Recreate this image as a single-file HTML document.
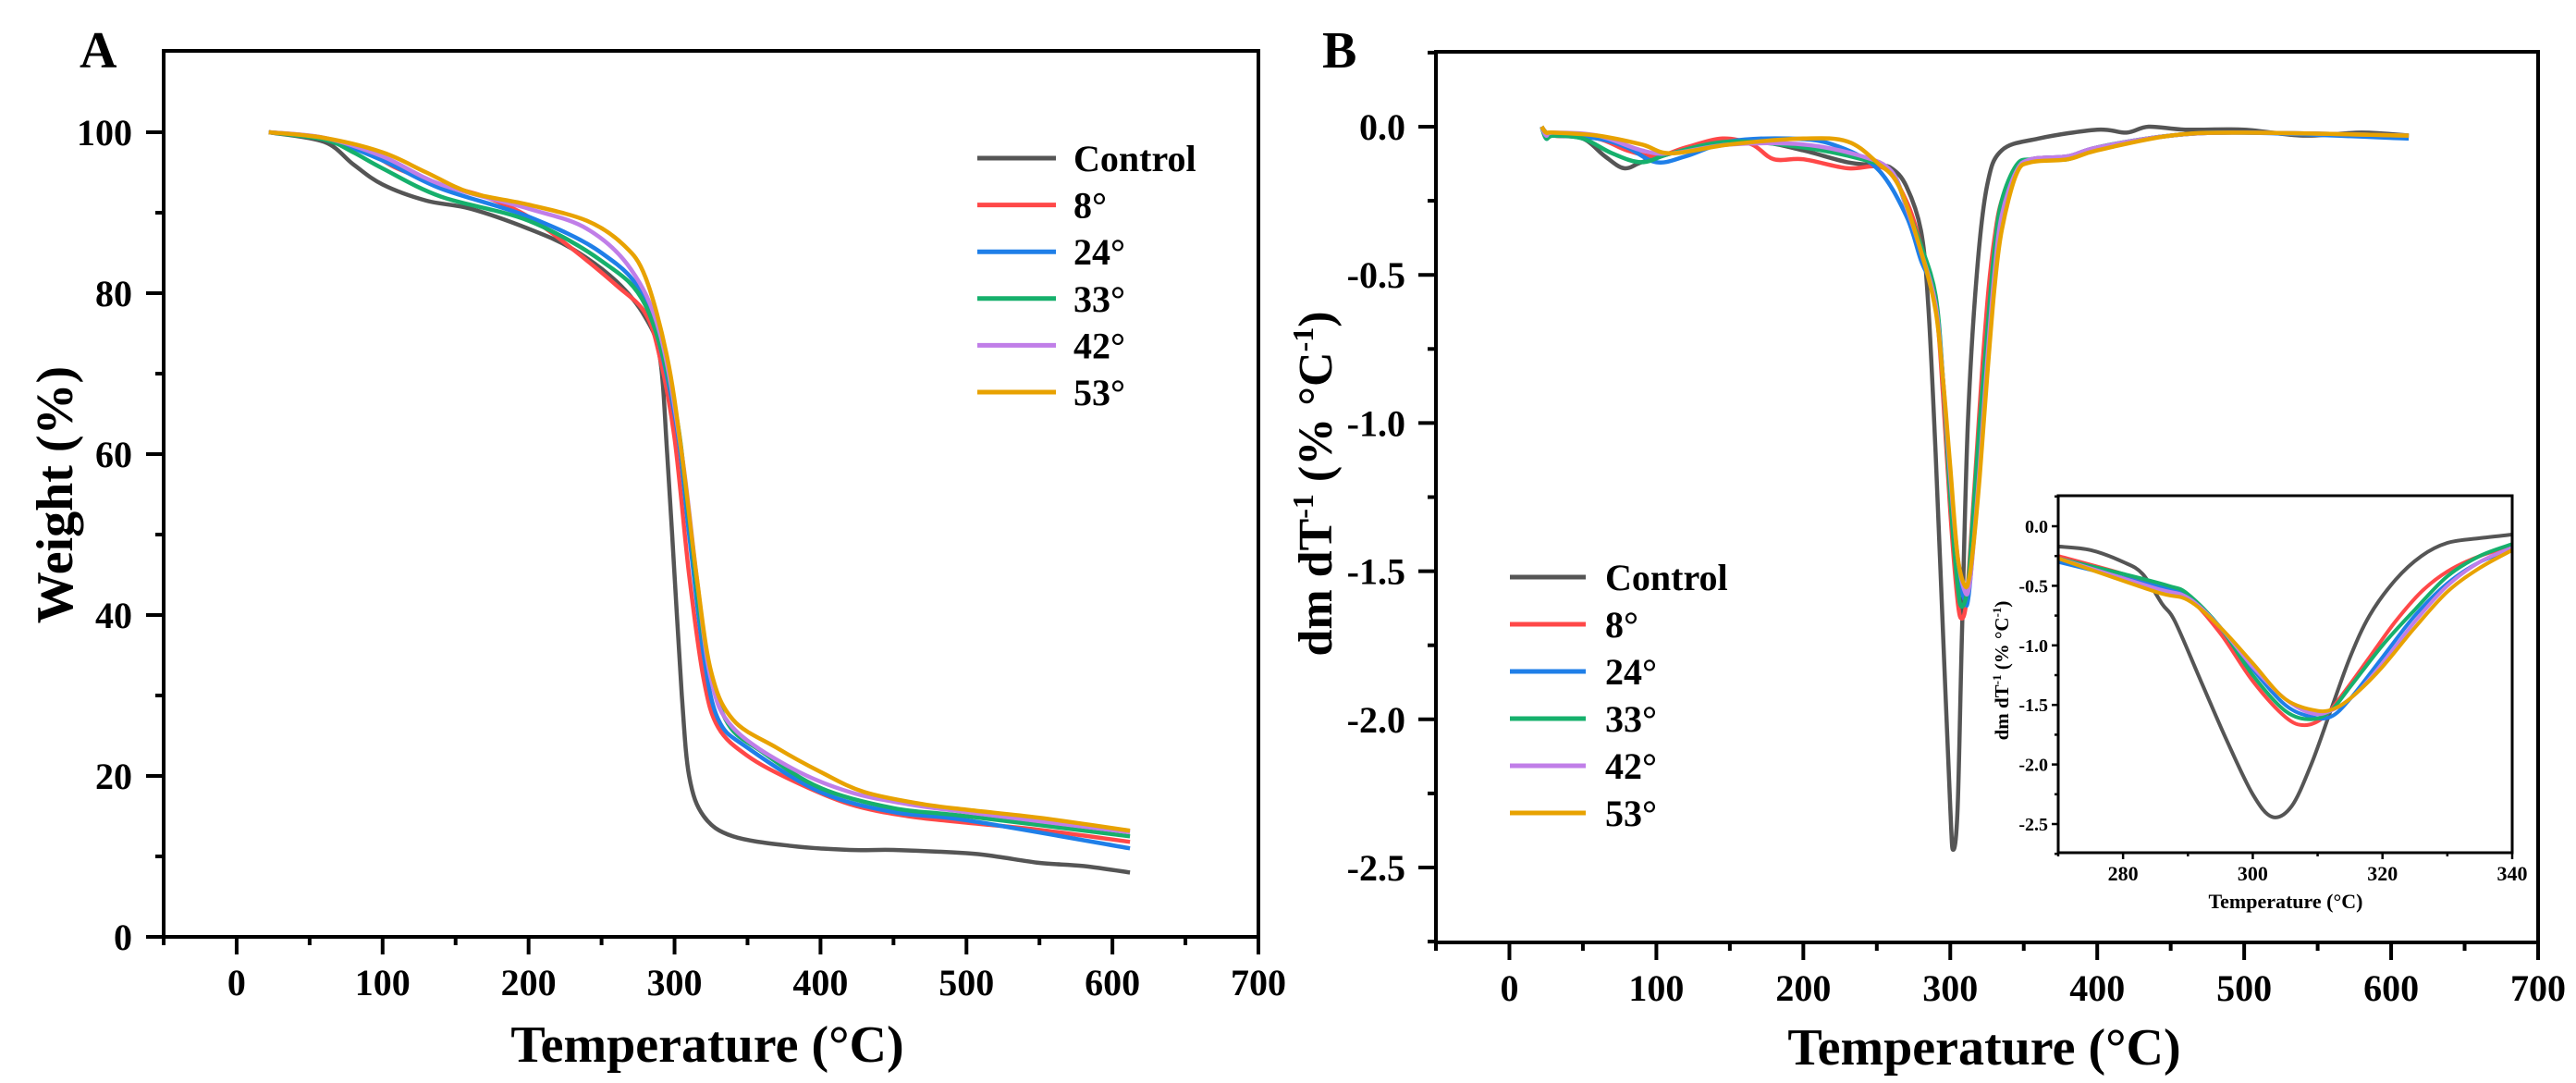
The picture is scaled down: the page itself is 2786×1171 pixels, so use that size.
<!DOCTYPE html>
<html><head><meta charset="utf-8"><style>
html,body{margin:0;padding:0;background:#fff;}
svg{display:block;font-family:"Liberation Serif",serif;font-weight:bold;}
</style></head><body>
<svg id="fig" width="2786" height="1171" viewBox="0 0 2786 1171" xmlns="http://www.w3.org/2000/svg">
<defs>
<clipPath id="clipA"><rect x="177" y="55" width="1184" height="958"/></clipPath>
<clipPath id="clipB"><rect x="1553" y="56" width="1192" height="963"/></clipPath>
<clipPath id="clipI"><rect x="2226" y="536" width="491" height="386"/></clipPath>
</defs>
<g id="gA"></g>
<g id="gB"></g>
<g id="gI"></g>
</svg>
<script>
// ---------- data ----------
const seriesNames = ["Control","8°","24°","33°","42°","53°"];
const seriesColors = ["#555555","#ff4848","#1f7fe8","#16b06c","#c07ee8","#e8a200"];

// Panel A: weight (%) vs temperature
const tgaT = [
 [22,60,80,100,130,160,200,230,260,280,290,295,300,305,310,320,340,380,420,450,500,520,550,580,612],
 [22,60,90,110,140,170,200,230,260,280,290,300,310,320,330,350,380,420,460,500,550,612],
 [22,60,100,140,200,250,280,300,310,320,330,350,400,450,500,612],
 [22,60,80,100,140,200,250,280,300,310,320,335,360,400,450,500,612],
 [22,60,100,140,200,240,270,290,305,315,325,340,380,420,460,500,612],
 [22,60,100,130,160,200,240,265,280,295,305,315,325,340,370,400,430,470,500,550,612]
];
const tgaW = [
 [100,98.8,96,93.5,91.5,90.5,88,85.5,81.5,77,72,60,45,30,20,15,12.5,11.3,10.8,10.8,10.4,10,9.2,8.8,8],
 [100,99.3,97.5,95.5,93.5,92,89.5,85.5,81,77.5,72,62,45,32,26,22.5,19.5,16.5,15,14.2,13.3,11.8],
 [100,99.2,96.5,93,89.5,85,79,65,50,35,27,23.5,18,15.5,14.5,11],
 [100,99.1,97.5,95.5,92,89,84,78.5,66,52,37,27,23,18.5,16,15,12.5],
 [100,99.3,97,93.5,90.5,88,83,75,60,45,32,26,21,18,16.5,15.5,13],
 [100,99.3,97.5,95,92.5,91,89,86,82,72,60,45,33,27,23.5,20.5,18,16.5,15.8,14.8,13.2]
];

// Panel B: DTG
const dtgT = [
 [22,25,30,50,65,78,90,110,140,170,200,230,250,260,270,280,285,290,295,300,302,305,308,312,318,325,335,360,400,420,435,460,500,540,580,612],
 [22,25,30,60,80,100,120,145,165,180,200,230,255,270,280,290,295,300,305,308,311,314,318,322,326,330,335,345,355,380,400,450,500,612],
 [22,25,30,60,80,100,120,150,190,220,250,270,280,290,295,300,305,310,312,315,320,325,330,335,345,355,380,400,450,500,612],
 [22,25,30,50,70,90,110,150,200,240,260,270,280,290,295,300,305,308,312,315,320,325,330,335,345,355,380,400,450,500,612],
 [22,25,30,60,90,110,150,200,240,260,270,280,290,295,300,305,310,313,316,320,325,330,335,345,355,380,400,450,500,612],
 [22,25,30,60,90,110,150,200,230,250,265,280,290,295,300,305,310,313,316,320,325,330,335,345,355,380,400,450,500,612]
];
const dtgV = [
 [0,-0.02,-0.03,-0.04,-0.1,-0.14,-0.12,-0.09,-0.05,-0.05,-0.08,-0.12,-0.13,-0.14,-0.2,-0.35,-0.6,-1.1,-1.7,-2.3,-2.44,-2.3,-1.7,-1.0,-0.5,-0.2,-0.08,-0.04,-0.01,-0.02,0.0,-0.01,-0.01,-0.03,-0.02,-0.03],
 [0,-0.03,-0.03,-0.04,-0.08,-0.1,-0.07,-0.04,-0.06,-0.11,-0.11,-0.14,-0.14,-0.25,-0.4,-0.6,-0.9,-1.3,-1.6,-1.66,-1.6,-1.4,-1.1,-0.8,-0.55,-0.38,-0.25,-0.15,-0.11,-0.1,-0.07,-0.03,-0.02,-0.03],
 [0,-0.04,-0.03,-0.04,-0.07,-0.12,-0.1,-0.05,-0.04,-0.06,-0.14,-0.3,-0.45,-0.58,-0.85,-1.2,-1.5,-1.6,-1.6,-1.45,-1.1,-0.75,-0.48,-0.3,-0.15,-0.11,-0.1,-0.07,-0.03,-0.02,-0.04],
 [0,-0.04,-0.03,-0.04,-0.09,-0.12,-0.09,-0.05,-0.07,-0.11,-0.15,-0.27,-0.4,-0.57,-0.85,-1.25,-1.55,-1.62,-1.55,-1.35,-1.0,-0.7,-0.42,-0.25,-0.13,-0.11,-0.11,-0.07,-0.03,-0.02,-0.03],
 [0,-0.03,-0.02,-0.03,-0.08,-0.09,-0.06,-0.06,-0.1,-0.15,-0.27,-0.42,-0.6,-0.85,-1.18,-1.45,-1.57,-1.55,-1.4,-1.15,-0.8,-0.5,-0.3,-0.15,-0.11,-0.1,-0.07,-0.03,-0.02,-0.03],
 [0,-0.02,-0.02,-0.03,-0.06,-0.09,-0.06,-0.04,-0.05,-0.12,-0.2,-0.42,-0.62,-0.85,-1.15,-1.45,-1.55,-1.52,-1.4,-1.18,-0.85,-0.55,-0.35,-0.16,-0.12,-0.11,-0.08,-0.03,-0.02,-0.03]
];

// Inset: zoom of DTG peak
const insT = [
 [270,275,280,283,286,288,292,296,300,303,306,309,312,315,318,322,326,330,335,340],
 [270,280,285,290,295,300,305,308,311,314,318,322,326,330,335,340],
 [270,285,290,295,300,305,309,312,315,320,325,330,335,340],
 [270,280,287,290,295,300,305,309,312,315,320,325,330,335,340],
 [270,285,290,295,300,305,309,312,316,320,325,330,335,340],
 [270,285,290,295,300,305,310,313,316,320,325,330,335,340]
];
const insV = [
 [-0.17,-0.2,-0.3,-0.4,-0.65,-0.8,-1.3,-1.8,-2.25,-2.44,-2.35,-2.0,-1.55,-1.1,-0.75,-0.45,-0.25,-0.14,-0.1,-0.07],
 [-0.25,-0.4,-0.5,-0.6,-0.9,-1.3,-1.6,-1.67,-1.6,-1.4,-1.1,-0.8,-0.55,-0.38,-0.25,-0.17],
 [-0.3,-0.5,-0.58,-0.85,-1.2,-1.5,-1.6,-1.6,-1.45,-1.1,-0.75,-0.48,-0.3,-0.2],
 [-0.27,-0.4,-0.5,-0.57,-0.85,-1.25,-1.55,-1.62,-1.55,-1.35,-1.0,-0.7,-0.42,-0.25,-0.15],
 [-0.27,-0.52,-0.6,-0.85,-1.18,-1.45,-1.57,-1.55,-1.4,-1.15,-0.8,-0.5,-0.3,-0.18],
 [-0.27,-0.55,-0.62,-0.85,-1.15,-1.45,-1.55,-1.52,-1.4,-1.18,-0.85,-0.55,-0.35,-0.2]
];

const xTicks = [0,100,200,300,400,500,600,700];
const aYTicks = [0,20,40,60,80,100];
const bYTicks = [0.0,-0.5,-1.0,-1.5,-2.0,-2.5];
const iXTicks = [280,300,320,340];

// ---------- helpers ----------
const NS = "http://www.w3.org/2000/svg";
function mk(tag, attrs, parent){ const e=document.createElementNS(NS,tag); for(const k in attrs) e.setAttribute(k,attrs[k]); parent.appendChild(e); return e; }
function lin(d0,d1,r0,r1){ return v => r0 + (v-d0)*(r1-r0)/(d1-d0); }
function smooth(pts){
  let d="M"+pts[0][0].toFixed(1)+","+pts[0][1].toFixed(1);
  for(let i=0;i<pts.length-1;i++){
    const p0=pts[i-1]||pts[i], p1=pts[i], p2=pts[i+1], p3=pts[i+2]||p2;
    const c1=[p1[0]+(p2[0]-p0[0])/6, p1[1]+(p2[1]-p0[1])/6];
    const c2=[p2[0]-(p3[0]-p1[0])/6, p2[1]-(p3[1]-p1[1])/6];
    d+=" C"+c1[0].toFixed(1)+","+c1[1].toFixed(1)+" "+c2[0].toFixed(1)+","+c2[1].toFixed(1)+" "+p2[0].toFixed(1)+","+p2[1].toFixed(1);
  }
  return d;
}
function fmt1(v){ return (v===0?"0.0":v.toFixed(1)); }

// ---------- Panel A ----------
const gA=document.getElementById('gA');
const ax=lin(-50,700,177,1361), ay=lin(0,100,1013,143);
for(let s=0;s<6;s++){
  const p=mk('path',{d:smooth(tgaT[s].map((t,i)=>[ax(t),ay(tgaW[s][i])])),fill:'none',stroke:seriesColors[s],'stroke-width':4.5,'stroke-linejoin':'round','clip-path':'url(#clipA)'},gA);
  
  
}
const frA=mk('rect',{x:177,y:55,width:1184,height:958,fill:'none',stroke:'#000','stroke-width':4},gA);


for(let v=-50;v<=700;v+=50){
  const major=v%100===0;
  mk('line',{x1:ax(v),x2:ax(v),y1:1013,y2:1013+(major?19:9),stroke:'#000','stroke-width':4},gA);
}
xTicks.forEach(v=>{ const t=mk('text',{x:ax(v),y:1076,'text-anchor':'middle','font-size':40},gA); t.textContent=v;
  
   });
for(let v=0;v<=100;v+=10){
  const major=v%20===0;
  mk('line',{x1:177,x2:177-(major?19:9),y1:ay(v),y2:ay(v),stroke:'#000','stroke-width':4},gA);
}
aYTicks.forEach(v=>{ const t=mk('text',{x:143,y:ay(v)+14,'text-anchor':'end','font-size':40},gA); t.textContent=v;
  
   });
// legend A
for(let s=0;s<6;s++){
  const y=171+s*50.6;
  const l=mk('line',{x1:1057,x2:1142,y1:y,y2:y,stroke:seriesColors[s],'stroke-width':5},gA);
  
  
  const t=mk('text',{x:1161,y:y+14,'font-size':40},gA); t.textContent=seriesNames[s];
  
  
}

// ---------- Panel B ----------
const gB=document.getElementById('gB');
const bx=lin(-50,700,1553,2745), by=lin(0,-2.5,137,938);
for(let s=0;s<6;s++){
  const p=mk('path',{d:smooth(dtgT[s].map((t,i)=>[bx(t),by(dtgV[s][i])])),fill:'none',stroke:seriesColors[s],'stroke-width':4.5,'stroke-linejoin':'round','clip-path':'url(#clipB)'},gB);
  
  
}
const frB=mk('rect',{x:1553,y:56,width:1192,height:963,fill:'none',stroke:'#000','stroke-width':4},gB);


for(let v=-50;v<=700;v+=50){
  const major=v%100===0;
  mk('line',{x1:bx(v),x2:bx(v),y1:1019,y2:1019+(major?19:9),stroke:'#000','stroke-width':4},gB);
}
xTicks.forEach(v=>{ const t=mk('text',{x:bx(v),y:1082,'text-anchor':'middle','font-size':40},gB); t.textContent=v;
  
   });
for(let v=0.25;v>=-2.75;v-=0.25){
  const major=Math.abs(Math.round(v*2)-v*2)<1e-6;
  mk('line',{x1:1553,x2:1553-(major?19:9),y1:by(v),y2:by(v),stroke:'#000','stroke-width':4},gB);
}
bYTicks.forEach(v=>{ const t=mk('text',{x:1520,y:by(v)+14,'text-anchor':'end','font-size':40},gB); t.textContent=fmt1(v);
  
   });
// legend B
for(let s=0;s<6;s++){
  const y=624+s*51;
  const l=mk('line',{x1:1633,x2:1715,y1:y,y2:y,stroke:seriesColors[s],'stroke-width':5},gB);
  
  
  const t=mk('text',{x:1736,y:y+14,'font-size':40},gB); t.textContent=seriesNames[s];
  
  
}

// ---------- Inset ----------
const gI=document.getElementById('gI');
mk('rect',{x:2226,y:536,width:491,height:386,fill:'#fff'},gI);
const ix=lin(270,340,2226,2717), iy=lin(0,-2.5,569,891);
for(let s=0;s<6;s++){
  const p=mk('path',{d:smooth(insT[s].map((t,i)=>[ix(t),iy(insV[s][i])])),fill:'none',stroke:seriesColors[s],'stroke-width':4,'stroke-linejoin':'round','clip-path':'url(#clipI)'},gI);
  
  
}
const frI=mk('rect',{x:2226,y:536,width:491,height:386,fill:'none',stroke:'#000','stroke-width':3},gI);


for(let v=270;v<=340;v+=10){
  const major=v%20===0;
  mk('line',{x1:ix(v),x2:ix(v),y1:922,y2:922+(major?7:4),stroke:'#000','stroke-width':2.5},gI);
}
iXTicks.forEach(v=>{ const t=mk('text',{x:ix(v),y:952,'text-anchor':'middle','font-size':22},gI); t.textContent=v;
  
   });
for(let v=0.25;v>=-2.75;v-=0.25){
  const major=Math.abs(Math.round(v*2)-v*2)<1e-6;
  mk('line',{x1:2226,x2:2226-(major?7:4),y1:iy(v),y2:iy(v),stroke:'#000','stroke-width':2.5},gI);
}
bYTicks.forEach(v=>{ const t=mk('text',{x:2215,y:iy(v)+7,'text-anchor':'end','font-size':20},gI); t.textContent=fmt1(v);
  
   });
</script>
<svg width="0" height="0" style="position:absolute"></svg>
<div style="position:absolute;left:0;top:0;width:2786px;height:1171px;pointer-events:none">
<svg width="2786" height="1171" style="position:absolute;left:0;top:0;font-family:'Liberation Serif',serif;font-weight:bold">
<text x="86" y="73" font-size="56">A</text>
<text x="1430" y="73" font-size="56">B</text>
<text x="765" y="1148" font-size="56" text-anchor="middle">Temperature (°C)</text>
<text transform="translate(78,535) rotate(-90)" font-size="56" text-anchor="middle">Weight (%)</text>
<text x="2146" y="1151" font-size="56" text-anchor="middle">Temperature (°C)</text>
<text transform="translate(1440,523) rotate(-90)" font-size="52" text-anchor="middle">dm dT<tspan font-size="32" dy="-20">-1</tspan><tspan dy="20"> (% °C</tspan><tspan font-size="32" dy="-20">-1</tspan><tspan dy="20">)</tspan></text>
<text x="2472" y="982" font-size="22" text-anchor="middle">Temperature (°C)</text>
<text transform="translate(2172,725) rotate(-90)" font-size="21" text-anchor="middle">dm dT<tspan font-size="13" dy="-8">-1</tspan><tspan dy="8"> (% °C</tspan><tspan font-size="13" dy="-8">-1</tspan><tspan dy="8">)</tspan></text>
</svg>
</div>
</body></html>
